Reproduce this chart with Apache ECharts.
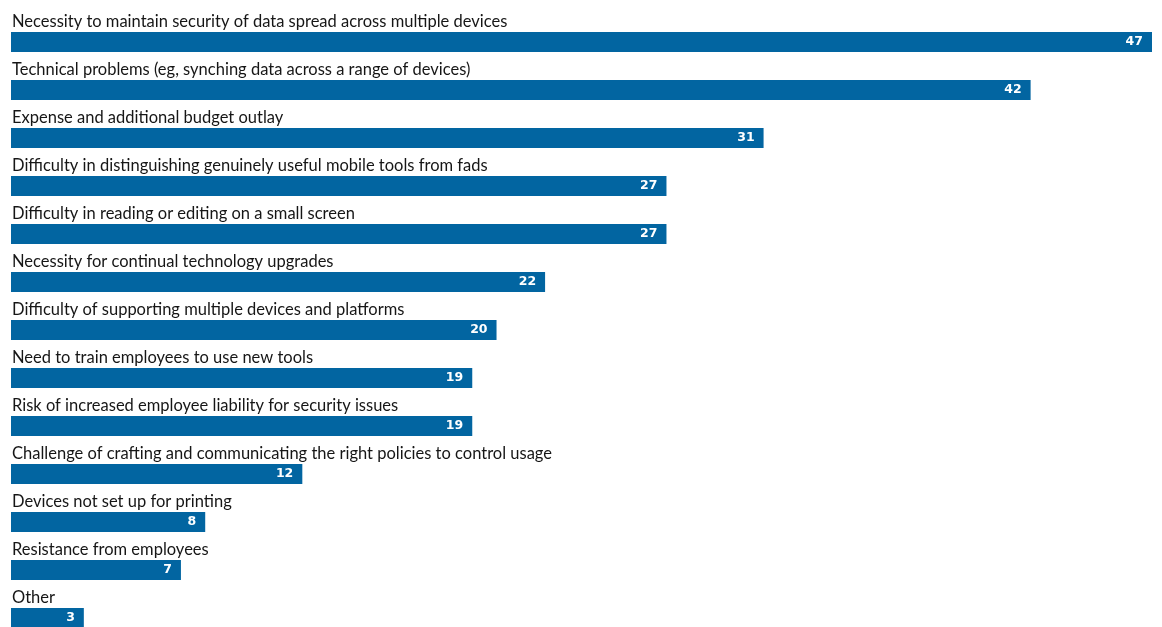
<!DOCTYPE html>
<html>
<head>
<meta charset="utf-8">
<script src="https://cdn.jsdelivr.net/npm/echarts@6/dist/echarts.min.js"></script>
<style>
  html, body { margin: 0; padding: 0; background: #ffffff; }
  #chart { width: 1162px; height: 627px; }
</style>
</head>
<body>
<div id="chart"></div>
<script>
// Survey responses: challenges of mobile device use (% of respondents)
const categories = [
  'Necessity to maintain security of data spread across multiple devices',
  'Technical problems (eg, synching data across a range of devices)',
  'Expense and additional budget outlay',
  'Difficulty in distinguishing genuinely useful mobile tools from fads',
  'Difficulty in reading or editing on a small screen',
  'Necessity for continual technology upgrades',
  'Difficulty of supporting multiple devices and platforms',
  'Need to train employees to use new tools',
  'Risk of increased employee liability for security issues',
  'Challenge of crafting and communicating the right policies to control usage',
  'Devices not set up for printing',
  'Resistance from employees',
  'Other'
];
const values = [47, 42, 31, 27, 27, 22, 20, 19, 19, 12, 8, 7, 3];

const chart = echarts.init(document.getElementById('chart'), null, { renderer: 'canvas' });

chart.setOption({
  animation: false,
  backgroundColor: '#ffffff',
  grid: {
    left: 11, right: 10, top: 18, height: 624,
    containLabel: false,
    outerBoundsMode: 'none'
  },
  xAxis: {
    type: 'value',
    min: 0,
    max: 47,
    show: false
  },
  yAxis: {
    type: 'category',
    data: categories,
    inverse: true,
    axisLine: { show: false },
    axisTick: { show: false },
    splitLine: { show: false },
    axisLabel: {
      inside: true,
      margin: 1,
      align: 'left',
      verticalAlign: 'bottom',
      padding: [0, 0, 12, 0],
      fontFamily: 'Lato',
      fontSize: 16.5,
      color: '#161616'
    }
  },
  series: [{
    type: 'bar',
    data: values,
    barWidth: 20,
    itemStyle: { color: '#0265a1' },
    label: {
      show: true,
      position: 'insideRight',
      distance: 9,
      color: '#ffffff',
      fontFamily: 'DejaVu Sans',
      fontWeight: 'bold',
      fontSize: 12.5
    }
  }]
});
</script>
</body>
</html>
